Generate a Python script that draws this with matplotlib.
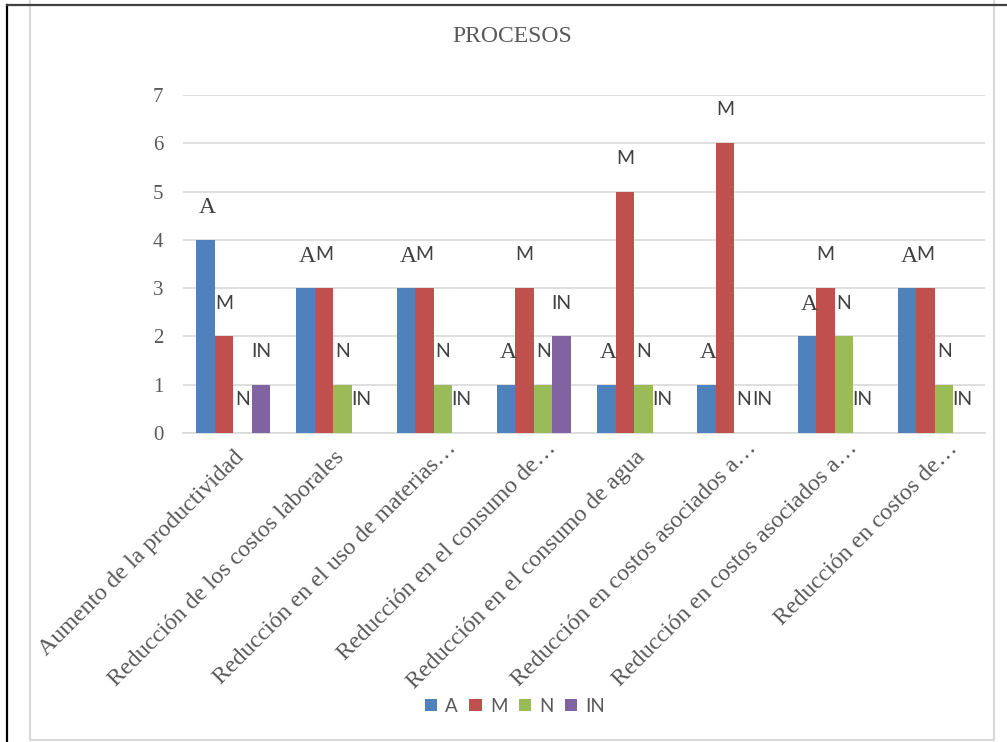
import matplotlib
matplotlib.use("Agg")
import matplotlib.pyplot as plt
import matplotlib.transforms as mtransforms
from matplotlib.lines import Line2D
from matplotlib.patches import Patch
import numpy as np

title = "PROCESOS"
categories = [
    "Aumento de la productividad",
    "Reducción de los costos laborales",
    "Reducción en el uso de materias…",
    "Reducción en el consumo de…",
    "Reducción en el consumo de agua",
    "Reducción en costos asociados a…",
    "Reducción en costos asociados a…",
    "Reducción en costos de…",
]
series_names = ["A", "M", "N", "IN"]
A_vals = [4, 3, 3, 1, 1, 1, 2, 3]
M_vals = [2, 3, 3, 3, 5, 6, 3, 3]
N_vals = [0, 1, 1, 1, 1, 0, 2, 1]
IN_vals = [1, 0, 0, 2, 0, 0, 0, 0]
yticks = [0, 1, 2, 3, 4, 5, 6, 7]

colors = ["#4F81BD", "#C0504D", "#9BBB59", "#8064A2"]
serif = "Liberation Serif"
sans = "Lato"

W, H = 1007, 742
fig = plt.figure(figsize=(W / 100, H / 100), dpi=100)
fig.patch.set_facecolor("white")

ax = fig.add_axes([183 / W, 1 - 433 / H, (985 - 183) / W, (433 - 95) / H])
x = np.arange(len(categories))
bw = 0.185
all_vals = [A_vals, M_vals, N_vals, IN_vals]
for i, (name, vals, c) in enumerate(zip(series_names, all_vals, colors)):
    xs = x + (i - 1.5) * bw
    ax.bar(xs, vals, width=bw, color=c, linewidth=0, label=name, zorder=3)
    for xi, v in zip(xs, vals):
        if name == "A":
            ax.annotate(name, (xi, v), xytext=(1.5, 23), textcoords="offset points",
                        ha="center", va="center", fontsize=17, family=serif,
                        color="#404040", zorder=4)
        else:
            ax.annotate(name, (xi, v), xytext=(0, 24), textcoords="offset points",
                        ha="center", va="center", fontsize=14, family=sans,
                        color="#404040", zorder=4)

ax.set_xlim(-0.5, len(categories) - 0.5)
ax.set_ylim(0, 7)
ax.set_yticks(yticks)
ax.set_yticklabels([str(t) for t in yticks], family=serif, fontsize=15, color="#595959")
ax.tick_params(axis="y", length=0, pad=14)
ax.tick_params(axis="x", length=0, pad=10)
ax.set_xticks(x)
ax.set_xticklabels(categories, rotation=45, ha="right", va="top",
                   rotation_mode="anchor", family=serif, fontsize=17.3, color="#595959")
# truncated (ellipsis) labels sit slightly further right/up in the reference
shift = mtransforms.ScaledTranslation(12 / 100, 9 / 100, fig.dpi_scale_trans)
for lab in ax.get_xticklabels():
    if lab.get_text().endswith("…"):
        lab.set_transform(lab.get_transform() + shift)

ax.grid(axis="y", color="#D9D9D9", linewidth=1.2, zorder=0)
ax.set_axisbelow(True)
for s in ["left", "right", "top"]:
    ax.spines[s].set_visible(False)
ax.spines["bottom"].set_color("#D9D9D9")
ax.spines["bottom"].set_linewidth(1.2)

fig.text(512 / W, 1 - 36 / H, title, ha="center", va="center", family=serif,
         fontsize=17, color="#595959")

handles = [Patch(facecolor=c, edgecolor="none") for c in colors]
leg = fig.legend(handles, series_names, loc="center", bbox_to_anchor=(515 / W, 1 - 706 / H),
                 ncol=4, frameon=False, handlelength=0.65, handleheight=0.65,
                 handletextpad=0.45, columnspacing=0.6, prop={"family": sans, "size": 13.5})
for t in leg.get_texts():
    t.set_color("#595959")

# page frame
def fline(x0, y0, x1, y1, color, lw):
    fig.add_artist(Line2D([x0 / W, x1 / W], [1 - y0 / H, 1 - y1 / H], color=color,
                          linewidth=lw, transform=fig.transFigure))

fline(30, 0, 30, 740, "#D9D9D9", 1.5)
fline(994, 0, 994, 740, "#D9D9D9", 1.5)
fline(30, 740, 994, 740, "#D9D9D9", 1.5)
fline(7, 5, 7, 742, "#000000", 1.6)
fline(7, 5, 1007, 5, "#404040", 1.6)

fig.savefig("out.png", dpi=100)
